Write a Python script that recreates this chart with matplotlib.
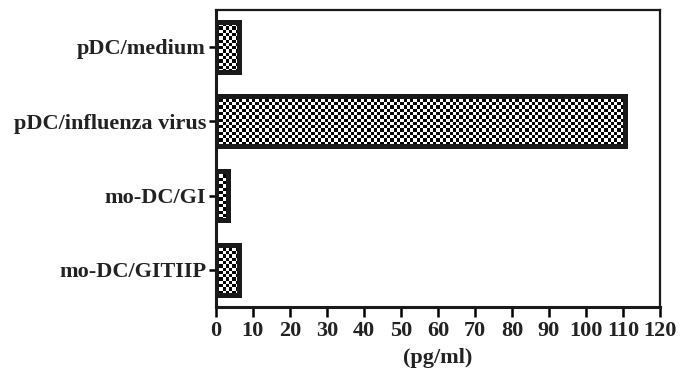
import numpy as np
import matplotlib
matplotlib.use("Agg")
import matplotlib.pyplot as plt

# data
groups = ["pDC/medium", "pDC/influenza virus", "mo-DC/GI", "mo-DC/GITIIP"]
values = [6.2, 110.5, 3.2, 6.2]
x_ticks = list(range(0, 121, 10))

plt.rcParams["font.family"] = ["Liberation Serif", "DejaVu Serif"]
plt.rcParams["font.weight"] = "bold"

fig = plt.figure(figsize=(6.94, 3.78), dpi=100)
ax = fig.add_axes([0.311, 0.188, 0.640, 0.786])

pos = np.arange(len(groups))
bars = ax.barh(pos, values, height=0.67, facecolor="none",
               edgecolor="#1a1a1a", linewidth=3.6, zorder=3)

# checkerboard fill, clipped to each bar
ncol, nrow = 135, 90
checker = (np.add.outer(np.arange(nrow), np.arange(ncol)) % 2).astype(float)
for b in bars:
    im = ax.imshow(checker, cmap="gray", vmin=0, vmax=1, aspect="auto",
                   interpolation="nearest", extent=(0, 120, len(groups) - 0.5, -0.5),
                   zorder=2)
    im.set_clip_path(b)
ax.set_xlim(0, 120)
ax.set_ylim(len(groups) - 0.5, -0.5)

fs = 16
ax.set_yticks(pos)
ax.set_yticklabels(groups, fontsize=fs, fontweight="bold", color="#222222")
ax.set_xticks(x_ticks)
ax.set_xticklabels([str(t) for t in x_ticks], fontsize=fs, fontweight="bold",
                   color="#222222")
ax.set_xlabel("(pg/ml)", fontsize=fs, fontweight="bold", color="#222222", labelpad=5)

ax.tick_params(axis="x", direction="out", length=7, width=1.8, pad=3)
ax.tick_params(axis="y", direction="out", length=5, width=1.8, pad=2)
for side in ["left", "bottom"]:
    ax.spines[side].set_linewidth(2.2)
for side in ["top", "right"]:
    ax.spines[side].set_linewidth(1.6)
for s in ax.spines.values():
    s.set_color("#1a1a1a")

fig.savefig("out.png", dpi=100)
